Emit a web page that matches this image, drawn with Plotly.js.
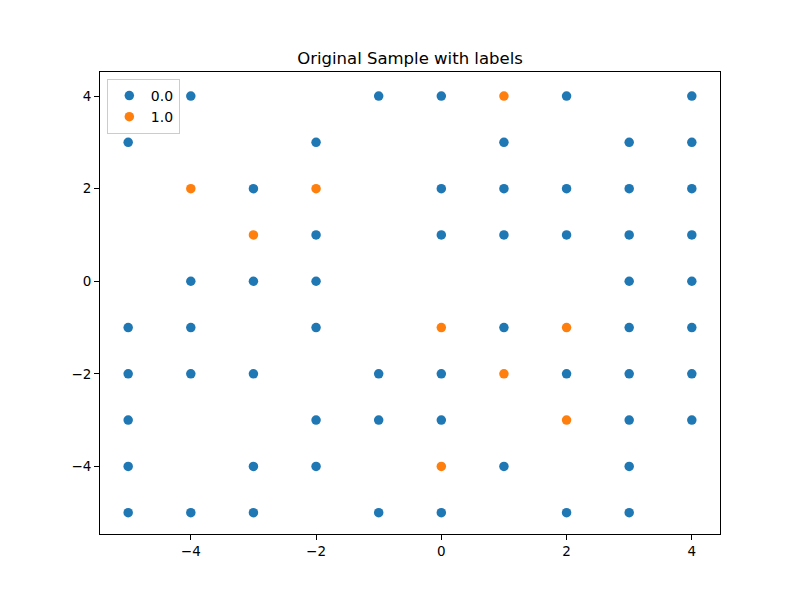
<!DOCTYPE html>
<html>
<head>
<meta charset="utf-8">
<script src="https://cdn.plot.ly/plotly-3.0.1.min.js"></script>
<style>html,body{margin:0;padding:0;background:#fff;}#chart{width:800px;height:600px;}</style>
</head>
<body>
<div id="chart"></div>
<script>
// Label 0.0 points
const x0 = [-4, -1, 0, 2, 4,
            -5, -2, 1, 3, 4,
            -3, 0, 1, 2, 3, 4,
            -2, 0, 1, 2, 3, 4,
            -4, -3, -2, 3, 4,
            -5, -4, -2, 1, 3, 4,
            -5, -4, -3, -1, 0, 2, 3, 4,
            -5, -2, -1, 0, 3, 4,
            -5, -3, -2, 1, 3,
            -5, -4, -3, -1, 0, 2, 3];
const y0 = [4, 4, 4, 4, 4,
            3, 3, 3, 3, 3,
            2, 2, 2, 2, 2, 2,
            1, 1, 1, 1, 1, 1,
            0, 0, 0, 0, 0,
            -1, -1, -1, -1, -1, -1,
            -2, -2, -2, -2, -2, -2, -2, -2,
            -3, -3, -3, -3, -3, -3,
            -4, -4, -4, -4, -4,
            -5, -5, -5, -5, -5, -5, -5];
// Label 1.0 points
const x1 = [1, -4, -2, -3, 0, 2, 1, 2, 0];
const y1 = [4, 2, 2, 1, -1, -1, -2, -3, -4];
const labels = ["0.0", "1.0"];
const colors = ["#1f77b4", "#ff7f0e"];

const font = "DejaVu Sans, sans-serif";
const traces = [
  {x: x0, y: y0, name: labels[0], type: "scatter", mode: "markers",
   marker: {color: colors[0], size: 9.5}},
  {x: x1, y: y1, name: labels[1], type: "scatter", mode: "markers",
   marker: {color: colors[1], size: 9.5}}
];
const axisCommon = {
  showgrid: false, zeroline: false, showline: true, mirror: true,
  linecolor: "#000", linewidth: 1, ticks: "outside", ticklen: 5, tickwidth: 1,
  tickcolor: "#000", tickfont: {family: font, size: 13.5, color: "#000"},
  dtick: 2, tick0: 0
};
const layout = {
  width: 800, height: 600,
  margin: {l: 100, r: 80, t: 72, b: 66},
  paper_bgcolor: "#fff", plot_bgcolor: "#fff",
  title: {text: "Original Sample with labels", font: {family: font, size: 16.5, color: "#000"},
          x: 0.5125, xanchor: "center", y: 0.894, yanchor: "bottom"},
  xaxis: Object.assign({range: [-5.45, 4.45]}, axisCommon),
  yaxis: Object.assign({range: [-5.46, 4.52]}, axisCommon),
  showlegend: true,
  legend: {x: 0.011, y: 0.985, xanchor: "left", yanchor: "top",
           bgcolor: "rgba(255,255,255,0.8)", bordercolor: "#cccccc", borderwidth: 1,
           font: {family: font, size: 14, color: "#000"}, itemwidth: 33, tracegroupgap: 0}
};
Plotly.newPlot("chart", traces, layout, {displayModeBar: false});
</script>
</body>
</html>
